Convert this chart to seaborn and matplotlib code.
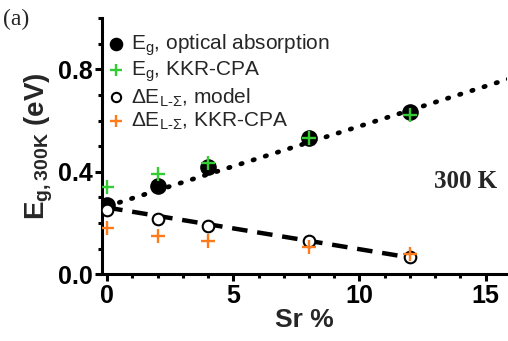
import matplotlib
matplotlib.use("Agg")
import matplotlib.pyplot as plt
import seaborn as sns
import pandas as pd
import numpy as np
from matplotlib.ticker import MultipleLocator

sns.set_theme(style="ticks")
plt.rcParams['font.family'] = ['Liberation Sans', 'DejaVu Sans']
plt.rcParams['mathtext.fontset'] = 'custom'
plt.rcParams['mathtext.rm'] = 'Liberation Sans'
plt.rcParams['mathtext.bf'] = 'Liberation Sans:bold'

sr = [0, 2, 4, 8, 12]
eg_optical = [0.27, 0.345, 0.42, 0.53, 0.635]
eg_kkr = [0.34, 0.39, 0.435, 0.53, 0.62]
dE_model = [0.25, 0.215, 0.19, 0.13, 0.068]
dE_kkr = [0.18, 0.15, 0.13, 0.105, 0.08]

fit_eg_x = [0, 16]
fit_eg_y = [0.265, 0.765]
fit_dE_x = [0, 12]
fit_dE_y = [0.26, 0.065]

df = pd.DataFrame({"Sr": sr, "eg_opt": eg_optical, "eg_kkr": eg_kkr,
                   "dE_model": dE_model, "dE_kkr": dE_kkr})

fig = plt.figure(figsize=(5.08, 3.41), dpi=100)
ax = fig.add_axes([0.201, 0.196, 0.797, 0.751])

sns.lineplot(x=fit_eg_x, y=fit_eg_y, ax=ax, color='black', lw=3.4,
             linestyle=(0, (0.3, 2.4)), dash_capstyle='round', zorder=1)
sns.lineplot(x=fit_dE_x, y=fit_dE_y, ax=ax, color='black', lw=3.2,
             linestyle=(0, (3.5, 2.2)), zorder=1)

sns.scatterplot(data=df, x="Sr", y="eg_opt", ax=ax, color='black', s=120,
                marker='o', edgecolor='black', linewidth=1,
                label=r'E$_\mathregular{g}$, optical absorption', zorder=3)
sns.scatterplot(data=df, x="Sr", y="eg_kkr", ax=ax, color='#33cc33', s=110,
                marker='+', linewidth=1.7,
                label=r'E$_\mathregular{g}$, KKR-CPA', zorder=4)
sns.scatterplot(data=df, x="Sr", y="dE_model", ax=ax, facecolor='white', s=70,
                marker='o', edgecolor='black', linewidth=1.5,
                label=r'$\Delta$E$_\mathregular{L\text{-}\Sigma}$, model', zorder=3)
sns.scatterplot(data=df, x="Sr", y="dE_kkr", ax=ax, color='#ff7a1a', s=110,
                marker='+', linewidth=1.7,
                label=r'$\Delta$E$_\mathregular{L\text{-}\Sigma}$, KKR-CPA', zorder=4)

ax.set_xlim(-0.2, 15.85)
ax.set_ylim(0, 1.0)
ax.xaxis.set_major_locator(MultipleLocator(5))
ax.xaxis.set_minor_locator(MultipleLocator(1))
ax.yaxis.set_minor_locator(MultipleLocator(0.1))
ax.set_yticks([0.0, 0.4, 0.8])
ax.set_yticklabels(['0.0', '0.4', '0.8'])

for s in ['top', 'right']:
    ax.spines[s].set_visible(False)
for s in ['left', 'bottom']:
    ax.spines[s].set_linewidth(2.2)
    ax.spines[s].set_color('black')

ax.tick_params(which='major', direction='out', length=5, width=2.2,
               labelsize=18, colors='black', pad=2)
ax.tick_params(which='minor', direction='out', length=3, width=2.2, colors='black')
for lab in ax.get_xticklabels() + ax.get_yticklabels():
    lab.set_fontweight('bold')

ax.set_xlabel('Sr %', fontsize=19, fontweight='bold', labelpad=0)
ax.set_ylabel(r'$\mathbf{E_{g,300K}}$ (eV)', fontsize=20, fontweight='bold', labelpad=2)

leg = ax.legend(loc='upper left', frameon=False, fontsize=15, handletextpad=0.2,
                bbox_to_anchor=(-0.01, 0.97), borderaxespad=0.0,
                labelspacing=0.08, handlelength=1.1,
                borderpad=0.3, markerscale=0.8)

ax.text(0.975, 0.36, '300 K', transform=ax.transAxes, ha='right', va='center',
        fontsize=18, fontweight='bold', family='Liberation Serif')
fig.text(0.006, 0.975, '(a)', ha='left', va='top', fontsize=17,
         family='Liberation Serif')

fig.savefig('out.png', dpi=100)
